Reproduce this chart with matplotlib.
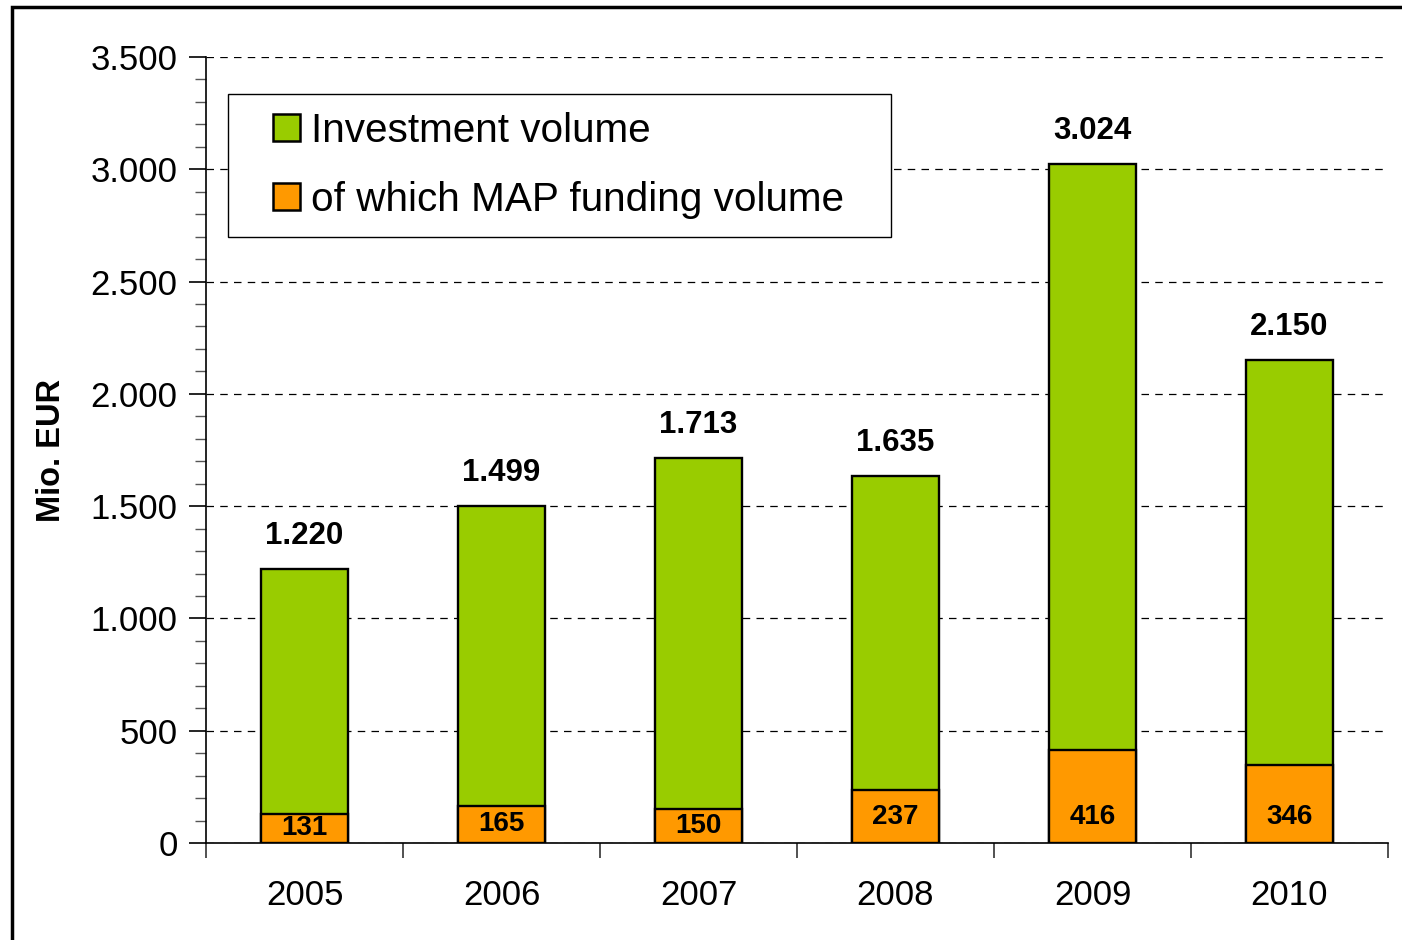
import matplotlib
matplotlib.use("Agg")
import matplotlib.pyplot as plt
from matplotlib.patches import Rectangle, Patch
from matplotlib.legend_handler import HandlerPatch
from matplotlib.ticker import MultipleLocator, FuncFormatter

plt.rcParams['font.family'] = ['Liberation Sans', 'DejaVu Sans']

years = ["2005", "2006", "2007", "2008", "2009", "2010"]
investment = [1220, 1499, 1713, 1635, 3024, 2150]
map_funding = [131, 165, 150, 237, 416, 346]
legend_labels = ["Investment volume", "of which MAP funding volume"]
ylabel = "Mio. EUR"

green = "#99CC00"
orange = "#FF9900"


def fmt(v):
    return f"{int(v):,}".replace(",", ".")


fig = plt.figure(figsize=(14.02, 9.40), dpi=100)
ax = fig.add_axes([206 / 1402, 1 - 843 / 940, (1388 - 206) / 1402, (843 - 57) / 940])

x = list(range(len(years)))
w = 0.44
ax.bar(x, investment, width=w, color=green, edgecolor="black", linewidth=1.7, zorder=3)
ax.bar(x, map_funding, width=w, color=orange, edgecolor="black", linewidth=1.7, zorder=4)

for xi, v in zip(x, investment):
    ax.annotate(fmt(v), (xi, v), xytext=(0, 13), textcoords="offset points",
                ha="center", va="bottom", fontsize=22.5, fontweight="bold", zorder=5)
for xi, v in zip(x, map_funding):
    ax.text(xi, min(v / 2, 115), fmt(v), ha="center", va="center",
            fontsize=20, fontweight="bold", zorder=5)

ax.set_xlim(-0.5, len(years) - 0.5)
ax.set_ylim(0, 3500)
ax.yaxis.set_major_locator(MultipleLocator(500))
ax.yaxis.set_minor_locator(MultipleLocator(100))
ax.yaxis.set_major_formatter(FuncFormatter(lambda v, p: fmt(v)))
ax.grid(axis="y", which="major", linestyle=(0, (6, 5)), color="black", linewidth=0.9, zorder=1)

ax.set_xticks(x)
ax.set_xticklabels(years)
ax.set_xticks([i - 0.5 for i in range(len(years) + 1)], minor=True)
ax.tick_params(axis="x", which="major", length=0, pad=26, labelsize=25)
ax.tick_params(axis="x", which="minor", length=11, width=1.2, color="#333333")
ax.tick_params(axis="y", which="major", length=12, width=1.2, pad=8.5, labelsize=25)
ax.tick_params(axis="y", which="minor", length=8, width=1.0, color="#555555")

for s in ["top", "right"]:
    ax.spines[s].set_visible(False)
ax.spines["left"].set_linewidth(1.2)
ax.spines["bottom"].set_linewidth(1.2)
ax.spines["bottom"].set_zorder(6)

fig.text(52 / 1402, 1 - 450 / 940, ylabel, rotation=90, ha="center", va="center",
         fontsize=23.5, fontweight="bold")


def square_patch(legend, orig_handle, xdescent, ydescent, width, height, fontsize):
    return Rectangle((width - height - xdescent, -ydescent), height, height)


handles = [Patch(facecolor=green, edgecolor="black", linewidth=1.8),
           Patch(facecolor=orange, edgecolor="black", linewidth=1.8)]
leg = ax.legend(handles, legend_labels, loc="upper left",
                bbox_to_anchor=(0.0186, 0.772, 0.561, 0.181), mode="expand",
                fontsize=29.2, frameon=True, fancybox=False, framealpha=1.0,
                handlelength=1.317, handleheight=0.645, handletextpad=0.27,
                borderpad=0.45, labelspacing=0.75, borderaxespad=0,
                handler_map={Patch: HandlerPatch(patch_func=square_patch)})
leg.get_frame().set_edgecolor("black")
leg.get_frame().set_linewidth(1.0)
leg.set_zorder(7)

fig.patches.append(Rectangle((12 / 1402, -0.1), 1.2, 1 - 7 / 940 + 0.1,
                             transform=fig.transFigure, fill=False,
                             edgecolor="black", linewidth=2.5))

fig.savefig("out.png", dpi=100)
